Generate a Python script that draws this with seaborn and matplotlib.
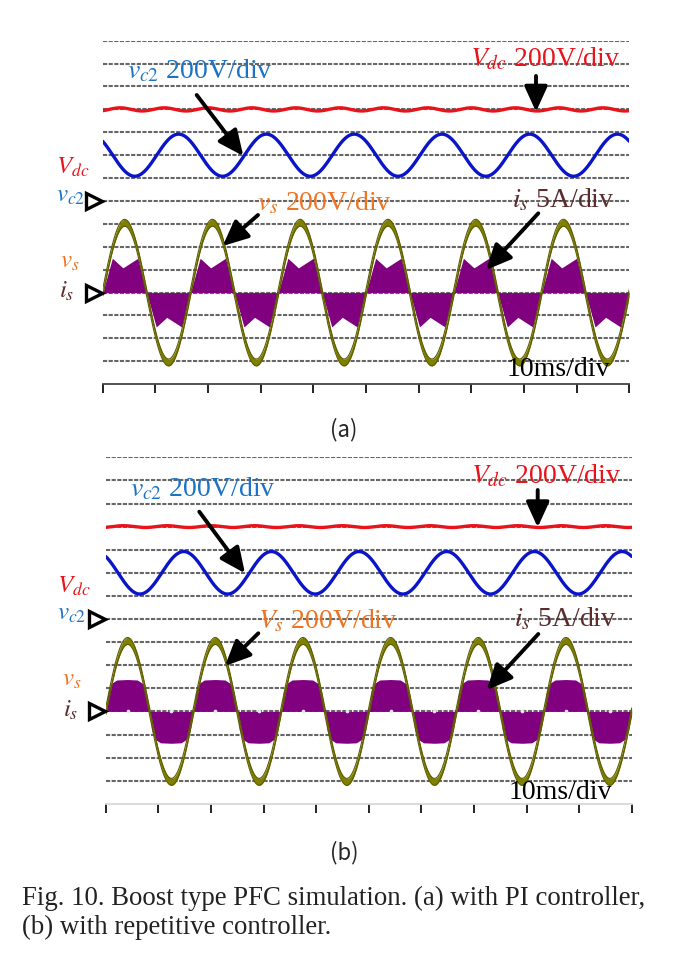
import numpy as np
import pandas as pd
import seaborn as sns
import matplotlib.pyplot as plt
from matplotlib.patches import FancyArrowPatch
from matplotlib.transforms import blended_transform_factory

W, H = 688, 955

# time base: 10 divisions of 10 ms, 60 Hz source
t_span = 100.0
t_div = 10.0
f_line = 60.0
n_grid = 15  # dotted lines above the time axis, 1 div apart

# trace levels in div, counted from the time axis
lvl_vdc = 12.0
lvl_vc2 = 10.0
ref_vc2 = 8.0
ref_is = 4.0

vs_amp = {'a': 3.05, 'b': 3.05}
vs_band = 0.15
vc2_amp = {'a': 0.92, 'b': 0.92}
vc2_phase = {'a': 0.385, 'b': 0.36}
vdc_ripple = {'a': 0.07, 'b': 0.04}
vdc_phase = {'a': 0.15, 'b': 0.15}

# current envelope over one half cycle (fraction of half period, div)
is_phase = {'a': [0.0, 0.22, 0.46, 0.8, 1.0],
            'b': [0.0, 0.05, 0.12, 0.25, 0.5, 0.72, 0.85, 0.93, 1.0]}
is_level = {'a': [0.0, 1.5, 1.08, 1.5, 0.0],
            'b': [0.0, 0.8, 1.2, 1.36, 1.38, 1.36, 1.2, 0.8, 0.0]}

# panel boxes in pixels: left, right, y of time axis, y of top line
box = {'a': (102.7, 629.3, 384.2, 40.7),
       'b': (105.7, 631.7, 803.8, 457.3)}

c_red = '#e8141c'
c_blue = '#0a14c8'
c_olive = '#808000'
c_purple = '#800080'
c_lblue = '#1c72c4'
c_orange = '#ec7424'
c_brown = '#5a2c2c'

sns.set_theme(style='white')
plt.rcParams['font.family'] = ['Liberation Serif', 'DejaVu Sans']
plt.rcParams['mathtext.fontset'] = 'stix'

fig = plt.figure(figsize=(W / 100, H / 100), dpi=100)


def fx(x):
    return x / W


def fy(y):
    return 1 - y / H


def arrow(x0, y0, x1, y1):
    fig.add_artist(FancyArrowPatch((fx(x0), fy(y0)), (fx(x1), fy(y1)),
                                   transform=fig.transFigure,
                                   arrowstyle='-|>,head_length=0.7,head_width=0.32',
                                   mutation_scale=22, lw=2.8, color='black',
                                   shrinkA=0, shrinkB=0))


def label(x, y, s, color, size=20):
    fig.text(fx(x), fy(y), s, color=color, fontsize=size, ha='left', va='baseline')


def panel(key):
    x0, x1, yb, yt = box[key]
    ax = fig.add_axes([fx(x0), fy(yb), (x1 - x0) / W, (yb - yt) / H])
    ax.set_xlim(0, t_span)
    ax.set_ylim(0, n_grid)
    for lv in range(1, n_grid + 1):
        ax.axhline(lv, color='#666666', lw=1.5, ls=(0, (2, 0.7)), zorder=1)

    t = np.linspace(0, t_span, 3001)
    w = 2 * np.pi * f_line * t / 1000

    # switching current envelope, tiled over the half cycles
    half = 1000 / f_line / 2
    n_half = int(round(t_span / half))
    tt, ii = [], []
    for k in range(n_half):
        sgn = 1 if k % 2 == 0 else -1
        tt += [k * half + p * half for p in is_phase[key]]
        ii += [ref_is + sgn * v for v in is_level[key]]
    ax.fill_between(tt, ref_is, ii, color=c_purple, lw=0, zorder=2)
    if key == 'b':
        pk = [half * (k + 0.5) for k in range(n_half)]
        ax.scatter(pk, [ref_is] * n_half, s=7, color='#e8e8e8', lw=0, zorder=3)

    vs = ref_is + vs_amp[key] * np.sin(w)
    ax.fill_between(t, vs - vs_band, vs + vs_band, color=c_olive, lw=0, zorder=4)
    ax.plot(t, vs - vs_band, color='#5c5c00', lw=0.8, zorder=4)
    ax.plot(t, vs + vs_band, color='#5c5c00', lw=0.8, zorder=4)

    df = pd.DataFrame({
        't': t,
        'vc2': lvl_vc2 + vc2_amp[key] * np.sin(w + 2 * np.pi * vc2_phase[key]),
        'vdc': lvl_vdc + vdc_ripple[key] * np.sin(2 * w - 2 * np.pi * vdc_phase[key]),
    })
    sns.lineplot(data=df, x='t', y='vc2', ax=ax, color=c_blue, lw=2.4, sort=False, zorder=5)
    sns.lineplot(data=df, x='t', y='vdc', ax=ax, color=c_red, lw=2.4, sort=False, zorder=5)

    ax.set_xticks(np.arange(0, t_span + 0.1, t_div))
    ax.set_yticks([])
    ax.set_xticklabels([])
    ax.set_xlabel('')
    ax.set_ylabel('')
    ax.tick_params(axis='x', direction='out', length=6.5, width=1.4, color='#222',
                   bottom=True)
    for s in ['top', 'left', 'right']:
        ax.spines[s].set_visible(False)
    ax.spines['bottom'].set_color('#444' if key == 'a' else '#d8d8d8')
    ax.spines['bottom'].set_linewidth(1.3)
    ax.patch.set_alpha(0)

    tr = blended_transform_factory(ax.transAxes, ax.transData)
    ax.plot([-0.0165, -0.0165], [ref_vc2, ref_is], ls='none', marker='>', ms=11,
            mfc='white', mec='black', mew=2.4, transform=tr, clip_on=False, zorder=6)
    return ax


panel('a')
panel('b')

# panel (a) texts
label(127, 78, r'$v_{\mathit{c2}}$ 200V/div', c_lblue)
label(470, 66, r'$V_{dc}$ 200V/div', c_red)
label(257, 210, r'$v_s$ 200V/div', c_orange)
label(512, 207, r'$i_s$ 5A/div', c_brown)
label(507, 376, '10ms/div', 'black')
label(56, 174, r'$V_{dc}$', c_red, 18)
label(56, 202, r'$v_{\mathit{c2}}$', c_lblue, 18)
label(60, 268, r'$v_s$', c_orange, 18)
label(59, 298, r'$i_s$', c_brown, 18)
arrow(196.7, 95, 243.3, 156)
arrow(536, 76, 536, 111.7)
arrow(258, 215, 222.7, 246)
arrow(538.3, 213.3, 486, 270)

# panel (b) texts
label(130, 496, r'$v_{\mathit{c2}}$ 200V/div', c_lblue)
label(471, 483, r'$V_{dc}$ 200V/div', c_red)
label(258, 628, r'$V_s$ 200V/div', c_orange)
label(514, 626, r'$i_s$ 5A/div', c_brown)
label(509, 799, '10ms/div', 'black')
label(57, 593, r'$V_{dc}$', c_red, 18)
label(57, 620, r'$v_{\mathit{c2}}$', c_lblue, 18)
label(62, 686, r'$v_s$', c_orange, 18)
label(63, 717, r'$i_s$', c_brown, 18)
arrow(199.3, 511.7, 245, 573.3)
arrow(537.7, 490, 537.7, 527.3)
arrow(258.3, 633.3, 225, 666)
arrow(538.3, 634, 486.7, 690)

fig.text(fx(344), fy(430), '(a)', fontsize=16, ha='center', va='center',
         family=['Noto Sans CJK KR', 'DejaVu Sans'])
fig.text(fx(344), fy(853), '(b)', fontsize=16, ha='center', va='center',
         family=['Noto Sans CJK KR', 'DejaVu Sans'])

# caption
cap1 = 'Fig. 10. Boost type PFC simulation. (a) with PI controller,'
cap2 = '(b) with repetitive controller.'
fig.text(fx(22), fy(905), cap1, fontsize=19.3, ha='left', va='baseline', color='#222')
fig.text(fx(22), fy(934), cap2, fontsize=19.3, ha='left', va='baseline', color='#222')

fig.savefig('out.png', dpi=100)
